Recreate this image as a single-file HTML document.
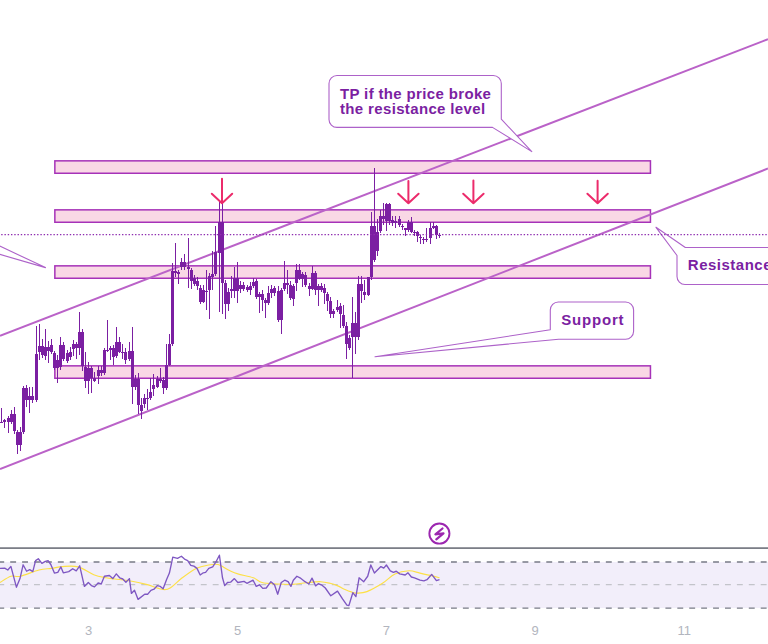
<!DOCTYPE html>
<html><head><meta charset="utf-8"><title>Chart</title>
<style>
html,body{margin:0;padding:0;background:#fff;}
body{width:768px;height:644px;overflow:hidden;position:relative;font-family:"Liberation Sans",sans-serif;}
svg{position:absolute;left:0;top:0;display:block;}
.lbl{font-family:"Liberation Sans",sans-serif;font-weight:bold;font-size:15px;fill:#7B1FA2;}
.ax{font-family:"Liberation Sans",sans-serif;font-size:13px;fill:#B2B5BE;}
</style></head>
<body>
<svg width="768" height="644" viewBox="0 0 768 644">
<!-- rectangles -->
<g fill="#F9D8E5" stroke="#A632B8" stroke-width="1.5">
<rect x="54.85" y="160.85" width="595.6" height="12.4"/>
<rect x="54.85" y="209.85" width="595.6" height="12.4"/>
<rect x="54.85" y="265.85" width="595.6" height="12.4"/>
<rect x="54.85" y="365.85" width="595.6" height="12.4"/>
</g>
<!-- channel lines -->
<g stroke="#BA62C8" stroke-width="2" fill="none">
<line x1="0" y1="335.7" x2="768" y2="39.18"/>
<line x1="0" y1="469.03" x2="768" y2="168.51"/>
</g>
<!-- candles -->
<path d="M-1.5 418V425M1.5 408V423M4.5 419V428M8.5 416V433M11.5 410V424M14.5 407V434M17.5 430V454M20.5 427V451M23.5 386V434M26.5 385V407M29.5 387V413M32.5 387V403M36.5 326V402M39.5 324V360M42.5 339V358M45.5 329V360M48.5 341V363M51.5 339V354M54.5 351V370M57.5 355V383M60.5 337V370M63.5 342V361M67.5 350V363M70.5 347V360M73.5 340V356M76.5 342V359M79.5 312V355M82.5 329V371M85.5 352V388M88.5 362V394M91.5 366V393M94.5 372V382M98.5 366V384M101.5 366V376M104.5 348V375M107.5 320V352M110.5 346V360M113.5 345V365M116.5 327V358M119.5 337V353M122.5 344V359M125.5 348V364M129.5 342V361M132.5 327V404M135.5 375V390M138.5 373V414M141.5 398V419M144.5 394V408M147.5 389V410M150.5 378V400M153.5 374V396M157.5 376V388M160.5 368V383M163.5 377V394M166.5 344V390M169.5 334V366M172.5 263V346M175.5 243V277M178.5 270V284M181.5 258V270M184.5 254V270M188.5 238V288M191.5 268V289M194.5 275V286M197.5 277V290M200.5 285V304M203.5 285V303M206.5 270V310M209.5 273V319M212.5 251V290M215.5 226V276M219.5 201V312M222.5 196V314M225.5 280V319M228.5 288V311M231.5 276V298M234.5 267V298M237.5 262V303M240.5 281V293M243.5 282V291M247.5 285V292M250.5 282V295M253.5 278V288M256.5 279V299M259.5 292V313M262.5 290V311M265.5 298V318M268.5 286V305M271.5 285V298M274.5 286V296M278.5 286V322M281.5 288V334M284.5 261V291M287.5 270V294M290.5 281V300M293.5 284V306M296.5 264V291M299.5 264V280M302.5 272V287M305.5 272V287M309.5 283V296M312.5 266V290M315.5 271V295M318.5 284V306M321.5 283V292M324.5 284V304M327.5 292V311M330.5 297V318M333.5 309V318M337.5 300V312M340.5 303V328M343.5 305V328M346.5 322V359M349.5 335V350M352.5 297V378M355.5 312V354M358.5 276V340M361.5 276V303M364.5 280V300M368.5 277V296M371.5 212V280M374.5 168V262M377.5 219V256M380.5 210V233M383.5 203V225M386.5 203V231M389.5 203V225M392.5 216V226M395.5 216V228M399.5 216V227M402.5 224V230M405.5 228V236M408.5 220V232M411.5 217V233M414.5 230V236M417.5 231V242M420.5 235V244M423.5 237V244M426.5 228V242M430.5 222V244M433.5 222V229M436.5 225V239M439.5 233V238" stroke="#7B1FA2" stroke-width="1" fill="none" shape-rendering="crispEdges"/>
<path d="M-3 422h3v1h-3zM0 422h3v1h-3zM3 420h3v2h-3zM7 418h3v4h-3zM10 414h3v8h-3zM13 414h3v17h-3zM16 432h3v13h-3zM19 432h3v13h-3zM22 388h3v44h-3zM25 388h3v12h-3zM28 396h3v4h-3zM31 396h3v4h-3zM35 354h3v46h-3zM38 346h3v6h-3zM41 346h3v9h-3zM44 347h3v9h-3zM47 347h3v4h-3zM50 345h3v7h-3zM53 353h3v15h-3zM56 360h3v8h-3zM59 345h3v22h-3zM62 345h3v14h-3zM66 353h3v8h-3zM69 352h3v5h-3zM72 344h3v5h-3zM75 344h3v4h-3zM78 332h3v16h-3zM81 332h3v34h-3zM84 367h3v14h-3zM87 368h3v13h-3zM90 368h3v10h-3zM93 378h3v3h-3zM97 370h3v6h-3zM100 370h3v3h-3zM103 350h3v23h-3zM106 350h3v1h-3zM109 348h3v2h-3zM112 348h3v9h-3zM115 342h3v14h-3zM118 342h3v10h-3zM121 352h3v1h-3zM124 352h3v8h-3zM128 351h3v8h-3zM131 351h3v36h-3zM134 379h3v8h-3zM137 379h3v26h-3zM140 405h3v6h-3zM143 398h3v6h-3zM146 398h3v1h-3zM149 392h3v6h-3zM152 385h3v4h-3zM156 379h3v8h-3zM159 379h3v2h-3zM162 380h3v8h-3zM165 365h3v23h-3zM168 344h3v21h-3zM171 271h3v73h-3zM174 271h3v2h-3zM177 272h3v2h-3zM180 262h3v5h-3zM183 262h3v5h-3zM187 267h3v2h-3zM190 270h3v11h-3zM193 278h3v6h-3zM196 281h3v5h-3zM199 288h3v14h-3zM202 290h3v12h-3zM205 291h3v1h-3zM208 276h3v14h-3zM211 274h3v3h-3zM214 252h3v22h-3zM218 222h3v31h-3zM221 222h3v61h-3zM224 283h3v21h-3zM227 292h3v12h-3zM230 289h3v2h-3zM233 278h3v13h-3zM236 278h3v13h-3zM239 285h3v4h-3zM242 285h3v4h-3zM246 287h3v3h-3zM249 286h3v4h-3zM252 282h3v4h-3zM255 281h3v16h-3zM258 294h3v3h-3zM261 294h3v6h-3zM264 300h3v3h-3zM267 293h3v10h-3zM270 289h3v4h-3zM273 288h3v5h-3zM277 291h3v29h-3zM280 290h3v30h-3zM283 283h3v6h-3zM286 283h3v2h-3zM289 285h3v13h-3zM292 286h3v13h-3zM295 270h3v13h-3zM298 270h3v9h-3zM301 274h3v5h-3zM304 275h3v10h-3zM308 286h3v3h-3zM311 273h3v16h-3zM314 273h3v17h-3zM317 286h3v4h-3zM320 286h3v4h-3zM323 288h3v5h-3zM326 294h3v7h-3zM329 301h3v13h-3zM332 311h3v3h-3zM336 307h3v3h-3zM339 306h3v8h-3zM342 315h3v11h-3zM345 326h3v18h-3zM348 338h3v10h-3zM351 323h3v14h-3zM354 323h3v14h-3zM357 284h3v53h-3zM360 284h3v7h-3zM363 292h3v3h-3zM367 277h3v18h-3zM370 226h3v51h-3zM373 226h3v34h-3zM376 232h3v19h-3zM379 216h3v15h-3zM382 216h3v3h-3zM385 204h3v17h-3zM388 204h3v17h-3zM391 220h3v3h-3zM394 221h3v2h-3zM398 219h3v6h-3zM401 226h3v1h-3zM404 228h3v2h-3zM407 222h3v8h-3zM410 222h3v10h-3zM413 232h3v1h-3zM416 232h3v4h-3zM419 237h3v1h-3zM422 239h3v1h-3zM425 239h3v1h-3zM429 228h3v10h-3zM432 226h3v2h-3zM435 226h3v9h-3zM438 235h3v1h-3z" fill="#7B1FA2" shape-rendering="crispEdges"/>
<!-- arrows -->
<g stroke="#EC2B6B" stroke-width="2" fill="none" stroke-linecap="round" stroke-linejoin="round">
<path d="M222.0 178.7V203.2M211.8 193.7L222.0 203.2L232.2 193.7"/>
<path d="M408.4 181.1V203.2M398.2 193.7L408.4 203.2L418.6 193.7"/>
<path d="M473.4 180.6V203.2M463.2 193.7L473.4 203.2L483.6 193.7"/>
<path d="M597.6 180.8V203.2M587.4 193.7L597.6 203.2L607.8 193.7"/>
</g>
<!-- callouts -->
<g fill="#fff" stroke="#AD62C9" stroke-width="1.1" stroke-linejoin="round">
<path d="M337 75.5H493.3A8 8 0 0 1 501.3 83.5V119.2L531.8 151.6L492.5 127.4H337A8 8 0 0 1 329 119.4V83.5A8 8 0 0 1 337 75.5Z"/>
<path d="M558.3 302H625.6A8 8 0 0 1 633.6 310V331.2A8 8 0 0 1 625.6 339.2H558.6L375 356.7L550.3 329.8V310A8 8 0 0 1 558.3 302Z"/>
<path d="M685.3 247.5H776V284.5H685A8 8 0 0 1 677 276.5V255.5L656 227.3Z"/>
<path d="M-10 241.5L45.5 267.6L-10 251.5Z"/>
</g>
<!-- price line dotted -->
<line x1="0" y1="234.6" x2="768" y2="234.6" stroke="#8E2DB0" stroke-width="1.3" stroke-dasharray="1.4 1.8655" stroke-dashoffset="-1.2"/>
<text class="lbl" x="340" y="98.7" letter-spacing="0.35">TP if the price broke</text>
<text class="lbl" x="340" y="113.7" letter-spacing="0.35">the resistance level</text>
<text class="lbl" x="561.3" y="324.8" letter-spacing="0.8">Support</text>
<text class="lbl" x="687.8" y="269.9" letter-spacing="0.5">Resistance</text>
<!-- lightning icon -->
<circle cx="439.4" cy="533.6" r="10.05" fill="#fff" stroke="#9C27B0" stroke-width="1.9"/>
<path d="M442.5 528.5L435.4 534.3L443.5 533.3L436.3 539.3" fill="none" stroke="#9C27B0" stroke-width="2.2" stroke-linejoin="round" stroke-linecap="round"/>
<!-- separator -->
<rect x="0" y="547.3" width="768" height="1.6" fill="#6D707A"/>
<!-- RSI band -->
<rect x="0" y="562" width="768" height="46" fill="#F2EEFA"/>
<g stroke-width="1.4" fill="none" stroke-dasharray="5.9 6.013" stroke-dashoffset="1.713">
<line x1="0" y1="562" x2="768" y2="562" stroke="#787B86"/>
<line x1="0" y1="584.6" x2="768" y2="584.6" stroke="#C3C4CA"/>
<line x1="0" y1="608.1" x2="768" y2="608.1" stroke="#787B86"/>
</g>
<path d="M0 582.5C1.82 581.46 7.52 577.29 10.9 576.25C14.28 575.21 15.62 577.29 20.3 576.25C24.98 575.21 33.78 571.31 39 570C44.22 568.69 47.68 568.97 51.6 568.4C55.52 567.83 58.08 566.85 62.5 566.6C66.92 566.35 72.89 565.55 78.1 566.9C83.31 568.25 89.06 572.88 93.75 574.7C98.44 576.52 102.71 577.08 106.25 577.8C109.79 578.52 110.94 578.47 115 579C119.06 579.53 125.39 580.1 130.6 581C135.81 581.9 140.78 582.98 146.25 584.4C151.72 585.82 159.23 589.03 163.4 589.5C167.57 589.97 168.12 589.15 171.25 587.2C174.38 585.25 178.03 580.93 182.2 577.8C186.37 574.67 191.82 570.53 196.25 568.4C200.68 566.27 205.11 565.65 208.75 565C212.39 564.35 215.49 564.05 218.1 564.5C220.71 564.95 222.42 566.65 224.4 567.7C226.38 568.75 227.77 569.77 230 570.8C232.23 571.83 233.9 572.73 237.8 573.9C241.7 575.07 249.37 576.37 253.4 577.8C257.43 579.23 258.08 581.47 262 582.5C265.92 583.53 271.82 583.68 276.9 584C281.98 584.32 287.3 584.65 292.5 584.4C297.7 584.15 303.42 582.95 308.1 582.5C312.78 582.05 316.95 581.57 320.6 581.7C324.25 581.83 327.13 582.6 330 583.3C332.87 584 335.3 584.87 337.8 585.9C340.3 586.93 342.76 588.5 345 589.5C347.24 590.5 349.17 591.3 351.25 591.9C353.33 592.5 354.89 593.15 357.5 593.1C360.11 593.05 362.73 593.23 366.9 591.6C371.07 589.97 377.82 586.25 382.5 583.3C387.18 580.35 390.58 575.98 395 573.9C399.42 571.82 404.83 570.93 409 570.8C413.17 570.67 416.08 572.25 420 573.1C423.92 573.95 429.25 575.12 432.5 575.9C435.75 576.68 438.33 577.48 439.5 577.8" fill="none" stroke="#FDE046" stroke-width="1.15"/>
<polyline points="0,568.4 4.7,568.1 7.8,570 10.9,566.4 16.4,587.2 20,578.6 23.1,564.8 26.6,571.25 29.7,569.7 32.8,571.6 35.6,560.6 38.3,558.75 41.9,563.3 45.3,561.4 48.1,560.6 50.8,564.5 54.4,573.1 57.8,572.3 60.9,566.9 63.3,572.8 68.75,571.6 72.7,568.75 76.25,570.8 79.7,565.8 84.4,586.4 88.3,582.5 91.4,585.6 94.5,586.9 98.1,583 101.25,584 104.4,576.25 109.4,575.5 112.8,578.6 116.3,573.9 119.7,577.8 122.8,579 125.9,582.2 129.4,578.6 131.4,593.4 134.5,590.3 138.1,599.4 144.7,594.2 147.8,594.2 150.9,590.3 154,589.2 157.2,585.6 160.3,586.4 163.1,588.75 166.6,579.4 169.4,573.1 172.8,557.2 177.5,558.3 181.4,556.25 184.5,559.1 187.7,560.6 190.8,565.3 193.9,566.1 197,568.4 200.2,575 203.3,572.8 205.6,572.3 208.75,568.4 212.7,566.9 215.8,562.2 219.4,555.2 222.5,577.8 224.7,585.6 227.5,582.5 230.6,582.2 234.4,578.6 237.8,582.5 244,581.4 246.9,583.3 253.1,580.2 256.25,586.4 259.4,584.8 262.8,588.4 266.25,588 270.9,581.7 274.5,584.8 277.7,594.2 281.25,582.5 284.7,580.2 288.1,581.7 290.9,586.4 293.3,580.2 296.9,576.25 300,577.8 305,581.7 308.9,584 312,578.1 315.6,585.9 318.3,583.75 321.4,584.8 325.3,588 330.8,595.8 337.5,591.1 342.5,598.9 346.9,605.2 348.9,605.6 352.8,592.7 355.9,596.6 359.1,577.8 363.75,581.7 367.7,576.25 370.8,565 374.4,573.1 380.9,566.6 383.75,568.1 386.4,565 390.3,570.8 393.4,572.3 396.25,571.25 399.7,573.9 405.2,575 408,572.8 411.4,577 414.5,577.8 420,580.2 423.9,580.9 427,579.7 431.7,574.4 436.4,580.6 439.5,579.7" fill="none" stroke="#7E57C2" stroke-width="1.35" stroke-linejoin="round"/>
<!-- time axis -->
<text class="ax" x="88.6" y="635.4" text-anchor="middle">3</text>
<text class="ax" x="237.6" y="635.4" text-anchor="middle">5</text>
<text class="ax" x="386.4" y="635.4" text-anchor="middle">7</text>
<text class="ax" x="535.2" y="635.4" text-anchor="middle">9</text>
<text class="ax" x="684.3" y="635.4" text-anchor="middle">11</text>
</svg>
</body></html>
